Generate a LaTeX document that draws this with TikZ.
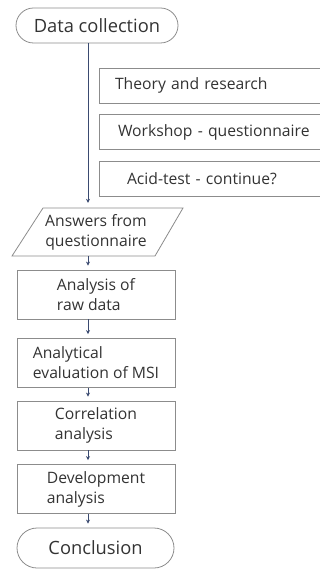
\documentclass[tikz,border=0pt]{standalone}
\usepackage{fontspec}
\setmainfont{Open Sans}
\usetikzlibrary{shapes.misc,arrows.meta}
\definecolor{boxline}{HTML}{8C8C8C}
\definecolor{connline}{HTML}{3A4A70}
\definecolor{txt}{HTML}{333333}
\tikzset{
  textstyle/.style={text=txt, font=\fontsize{15.7}{20}\selectfont},
  base/.style={textstyle, draw=boxline, line width=0.8pt},
  terminal/.style={base, rounded rectangle, inner sep=0pt,
    font=\fontsize{18.3}{22}\selectfont},
  stepbox/.style={base, rectangle, minimum width=158pt, minimum height=49pt,
    inner sep=0pt, align=left},
  sidebox/.style={base, rectangle, minimum height=35pt, text width=260pt,
    inner xsep=8pt, inner ysep=0pt, align=left},
  conn/.style={draw=connline, line width=0.6pt,
    -{Stealth[length=4pt,width=4pt]}, shorten >=4pt},
}
\begin{document}
\begin{tikzpicture}[x=1pt,y=-1pt]
\useasboundingbox (0,0) rectangle (320,569);
% x position of the main flow line
\coordinate (axis) at (88,0);

% start terminal
\node[terminal, minimum width=162pt, minimum height=35pt] (dc) at (97,25.5) {Data collection};

% side boxes of the data collection stage (they run off the right edge)
\node[sidebox] (theory) at (237,85.5) {\hspace*{8pt}Theory and research};
\node[sidebox] (workshop) at (237,132) {\hspace*{11pt}Workshop - questionnaire};
\node[sidebox] (acid) at (237,179) {\hspace*{20pt}Acid-test - continue?};

% input parallelogram
\node[textstyle, align=center, minimum width=112pt, minimum height=48pt,
  inner sep=0pt] (ans) at (96,232) {Answers from\\questionnaire};
\draw[boxline, line width=0.8pt] (12,256) -- (43,208) -- (183,208) -- (155,256) -- cycle;

% processing steps
\node[stepbox] (raw) at (96,294.5) {Analysis of\\raw data};
\node[stepbox] (ana) at (96,363) {Analytical\\evaluation of MSI};
\node[stepbox] (corr) at (96,425.5) {Correlation\\analysis};
\node[stepbox] (dev) at (96,489) {Development\\analysis};

% end terminal
\node[terminal, minimum width=157pt, minimum height=40pt] (conc) at (95.5,548) {Conclusion};

% connectors
\draw[conn, shorten >=5pt] (dc.south -| axis) -- (ans.north -| axis);
\draw[conn] (ans.south -| axis) -- (raw.north -| axis);
\draw[conn] (raw.south -| axis) -- (ana.north -| axis);
\draw[conn] (ana.south -| axis) -- (corr.north -| axis);
\draw[conn] (corr.south -| axis) -- (dev.north -| axis);
\draw[conn] (dev.south -| axis) -- (conc.north -| axis);
\end{tikzpicture}
\end{document}
